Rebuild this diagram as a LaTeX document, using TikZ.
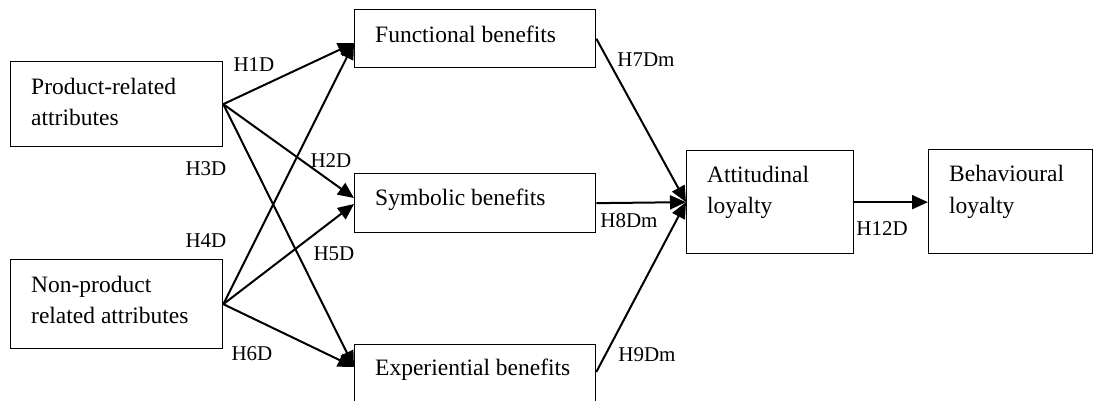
\documentclass[tikz,border=0pt]{standalone}
\usepackage{fontspec}
\setmainfont{Liberation Serif}
\usetikzlibrary{arrows.meta,calc}
\begin{document}
\begin{tikzpicture}[x=1pt,y=-1pt,
  box/.style={draw,line width=1.3pt,inner sep=0pt,anchor=north west},
  boxtext/.style={anchor=base west,inner sep=0pt,font=\fontsize{23.5}{31}\selectfont},
  lbl/.style={inner sep=0pt,font=\fontsize{21}{25}\selectfont},
  arr/.style={line width=2pt,-{Triangle[length=16pt,width=14pt]}}]
\useasboundingbox (0,0) rectangle (1093,400);

% boxes
\node[box,minimum width=212pt,minimum height=85pt] (prod) at (10,61) {};
\node[box,minimum width=212pt,minimum height=89pt] (nonp) at (10,259) {};
\node[box,minimum width=241pt,minimum height=58pt] (func) at (354,9) {};
\node[box,minimum width=241pt,minimum height=59pt] (sym) at (354,173) {};
\node[box,minimum width=241pt,minimum height=60pt] (exp) at (354,344) {};
\node[box,minimum width=167pt,minimum height=103pt] (att) at (686,150) {};
\node[box,minimum width=164pt,minimum height=104pt] (beh) at (928,149) {};

% box texts
\node[boxtext] (prodA) at (31,94) {Product-related};
\node[boxtext] (prodB) at (31,125) {attributes};
\node[boxtext] (nonpA) at (31,292) {Non-product};
\node[boxtext] (nonpB) at (31,323) {related attributes};
\node[boxtext] (funcT) at (375,42) {Functional benefits};
\node[boxtext] (symT) at (375,205) {Symbolic benefits};
\node[boxtext] (expT) at (375,375) {Experiential benefits};
\node[boxtext] (attA) at (707,182) {Attitudinal};
\node[boxtext] (attB) at (707,213) {loyalty};
\node[boxtext] (behA) at (949,181) {Behavioural};
\node[boxtext] (behB) at (949,213) {loyalty};

% connector end points on the boxes
\coordinate (fIn) at ($(func.north west)+(0,34)$);
\coordinate (sInP) at ($(sym.north west)+(0,25)$);
\coordinate (sInN) at ($(sym.north west)+(0,31)$);
\coordinate (eIn) at ($(exp.north west)+(0,23)$);
\coordinate (eOut) at ($(exp.north east)+(0,28)$);

% connectors
\draw[arr] (prod.east) -- (fIn);
\draw[arr] (prod.east) -- (sInP);
\draw[arr] (prod.east) -- (eIn);
\draw[arr] (nonp.east) -- (fIn);
\draw[arr] (nonp.east) -- (sInN);
\draw[arr] (nonp.east) -- (eIn);
\draw[arr] (func.east) -- (att.west);
\draw[arr] (sym.east) -- (att.west);
\draw[arr] (eOut) -- (att.west);
\draw[arr] (att.east) -- (att.east -| beh.west);

% labels
\node[lbl] (h1) at (254,65) {H1D};
\node[lbl] (h2) at (331,161) {H2D};
\node[lbl] (h3) at (206,169) {H3D};
\node[lbl] (h4) at (206,241) {H4D};
\node[lbl] (h5) at (334,254) {H5D};
\node[lbl] (h6) at (252,354) {H6D};
\node[lbl] (h7) at (646,60) {H7Dm};
\node[lbl] (h8) at (629,221) {H8Dm};
\node[lbl] (h9) at (647,355) {H9Dm};
\node[lbl] (h12) at (882,229) {H12D};
\end{tikzpicture}
\end{document}
